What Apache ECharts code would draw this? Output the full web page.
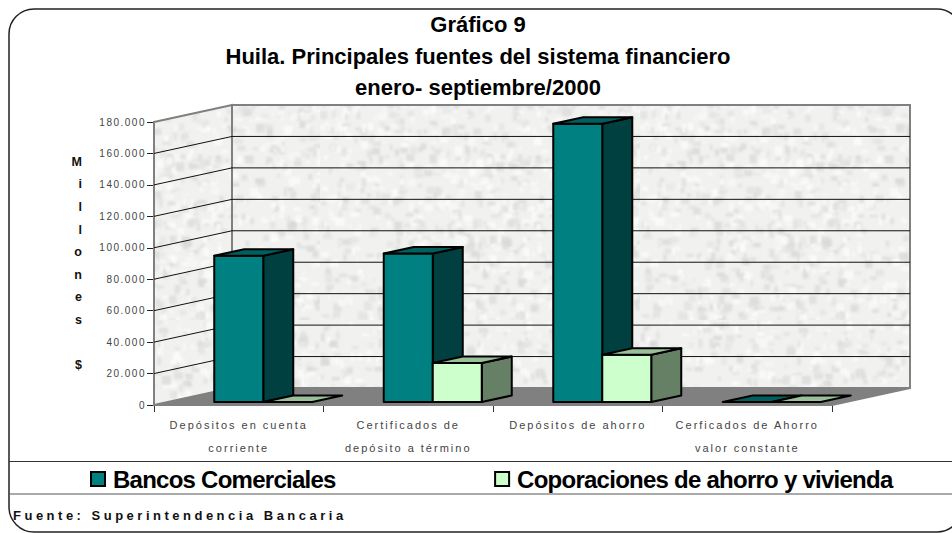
<!DOCTYPE html>
<html>
<head>
<meta charset="utf-8">
<style>
  html, body { margin: 0; padding: 0; background: #fff; }
  #graph { width: 952px; height: 533px; overflow: hidden; }
  /* echarts has no letter spacing option, the svg renderer lets css do it */
  #graph text[style*="10px"] { letter-spacing: 1.5px; }
  #graph text[style*="11px"] { letter-spacing: 2px; }
  #graph text[style*="13px"] { letter-spacing: 3.5px; }
  #graph text[style*="24px"] { letter-spacing: -0.75px; }
</style>
<script src="https://cdn.jsdelivr.net/npm/echarts@6/dist/echarts.min.js"></script>
</head>
<body>
<div id="graph"></div>
<script>
const categories = [
  'Depósitos en cuenta\ncorriente',
  'Certificados de\ndepósito a término',
  'Depósitos de ahorro',
  'Cerficados de Ahorro\nvalor constante'
];
const bancos = [93000, 94500, 177000, 0];
const coporaciones = [0, 24800, 30000, 0];
const yTicks = [20000, 40000, 60000, 80000, 100000, 120000, 140000, 160000];

// 3d look of the old spreadsheet chart
const wallDx = 78, wallDy = -17;
const barDx = 30, barDy = -6.5;
const barWidth = 49, barShiftX = 24.5, barShiftY = -3;

function makeTexture() {
  const c = document.createElement('canvas');
  c.width = c.height = 320;
  const ctx = c.getContext('2d');
  ctx.fillStyle = '#f1f1ef';
  ctx.fillRect(0, 0, 320, 320);
  ctx.filter = 'blur(1.3px)';
  let seed = 12345;
  const next = () => (seed = (seed * 16807) % 2147483647) / 2147483647;
  for (let i = 0; i < 1500; i++) {
    const g = next() < 0.55 ? 214 + Math.floor(next() * 16) : 248 + Math.floor(next() * 7);
    ctx.fillStyle = 'rgba(' + g + ',' + g + ',' + g + ',0.7)';
    ctx.fillRect(next() * 320, next() * 320, 2 + next() * 7, 2 + next() * 7);
  }
  return c;
}
const texture = { image: makeTexture(), repeat: 'repeat' };

function renderWalls(params) {
  const g = params.coordSys;
  const x0 = g.x, x1 = g.x + g.width, y0 = g.y, y1 = g.y + g.height;
  const poly = (points, fill) => ({
    type: 'polygon',
    shape: { points: points },
    style: { fill: fill, stroke: '#808080', lineWidth: 2 }
  });
  return {
    type: 'group',
    children: [
      poly([[x0, y1], [x0 + wallDx, y1 + wallDy], [x1 + wallDx, y1 + wallDy], [x1, y1]], '#808080'),
      poly([[x0, y0], [x0 + wallDx, y0 + wallDy], [x0 + wallDx, y1 + wallDy], [x0, y1]], texture),
      poly([[x0 + wallDx, y0 + wallDy], [x1 + wallDx, y0 + wallDy], [x1 + wallDx, y1 + wallDy], [x0 + wallDx, y1 + wallDy]], texture)
    ]
  };
}

function renderGridLine(params, api) {
  const g = params.coordSys;
  const y = api.coord([0, api.value(0)])[1];
  return {
    type: 'polyline',
    shape: { points: [[g.x, y], [g.x + wallDx, y + wallDy], [g.x + g.width + wallDx, y + wallDy]] },
    style: { fill: 'none', stroke: '#111', lineWidth: 1 }
  };
}

function barRenderer(slot, face, side, top) {
  return function (params, api) {
    const c = api.value(0);
    const tip = api.coord([c, api.value(1)]);
    const base = api.coord([c, 0]);
    const x = tip[0] + barShiftX + slot * barWidth;
    const y = tip[1] + barShiftY;
    const b = base[1] + barShiftY;
    const r = x + barWidth;
    const line = { stroke: '#000', lineWidth: 2, lineJoin: 'round' };
    const children = [];
    if (b - y > 0.5) {
      children.push({
        type: 'polygon',
        shape: { points: [[r, y], [r + barDx, y + barDy], [r + barDx, b + barDy], [r, b]] },
        style: Object.assign({ fill: side }, line)
      });
      children.push({
        type: 'rect',
        shape: { x: x, y: y, width: barWidth, height: b - y },
        style: Object.assign({ fill: face }, line)
      });
    }
    children.push({
      type: 'polygon',
      shape: { points: [[x, y], [x + barDx, y + barDy], [r + barDx, y + barDy], [r, y]] },
      style: Object.assign({ fill: top }, line)
    });
    return { type: 'group', children: children };
  };
}

const myChart = echarts.init(document.getElementById('graph'), null, { renderer: 'svg' });
myChart.setOption({
  animation: false,
  backgroundColor: '#fff',
  title: [
    {
      text: 'Gráfico 9\nHuila. Principales fuentes del sistema financiero\nenero- septiembre/2000',
      left: 473,
      top: 4,
      textAlign: 'center',
      textStyle: { fontFamily: 'Liberation Sans', fontSize: 22, fontWeight: 'bold', color: '#000', lineHeight: 31.5 }
    },
    {
      text: 'Fuente: Superintendencia Bancaria',
      left: 8,
      top: 502,
      textStyle: { fontFamily: 'Liberation Sans', fontSize: 13, fontWeight: 'bold', color: '#111', lineHeight: 16 }
    }
  ],
  legend: {
    data: ['Bancos Comerciales', 'Coporaciones de ahorro y vivienda'],
    icon: 'rect',
    left: 85,
    top: 462,
    itemWidth: 14,
    itemHeight: 14,
    itemGap: 145,
    itemStyle: { borderColor: '#000', borderWidth: 2 },
    textStyle: { fontFamily: 'Liberation Sans', fontSize: 24, fontWeight: 'bold', color: '#000', padding: [0, 0, 0, 3] }
  },
  grid: { left: 154, right: 120, top: 122, bottom: 128 },
  xAxis: {
    type: 'category',
    data: categories,
    axisLine: { lineStyle: { color: '#333', width: 2 } },
    axisTick: { show: true, length: 7, lineStyle: { color: '#333' } },
    axisLabel: {
      margin: 8, interval: 0, fontFamily: 'Liberation Sans', fontSize: 11, color: '#444', lineHeight: 23
    }
  },
  yAxis: {
    type: 'value',
    min: 0,
    max: 180000,
    interval: 20000,
    name: 'M\ni\nl\nl\no\nn\ne\ns\n\n$',
    nameLocation: 'middle',
    nameRotate: 0,
    nameGap: 72,
    nameTextStyle: { fontFamily: 'Liberation Sans', fontSize: 12.5, fontWeight: 'bold', color: '#111', lineHeight: 22.6 },
    splitLine: { show: false },
    axisLine: { show: true, lineStyle: { color: '#808080', width: 2 } },
    axisTick: { show: true, length: 7, lineStyle: { color: '#222' } },
    axisLabel: {
      margin: 8,
      fontFamily: 'Liberation Sans',
      fontSize: 10,
      color: '#444',
      formatter: v => String(v).replace(/\B(?=(\d{3})+$)/g, '.')
    }
  },
  graphic: [
    { type: 'rect', z: 100, shape: { x: 9, y: 9, width: 953, height: 523, r: 25 }, style: { fill: 'none', stroke: '#222', lineWidth: 1.5 } },
    { type: 'line', z: 100, shape: { x1: 9, y1: 461.5, x2: 952, y2: 461.5 }, style: { stroke: '#333', lineWidth: 1 } },
    { type: 'line', z: 100, shape: { x1: 9, y1: 494, x2: 952, y2: 494 }, style: { stroke: '#555', lineWidth: 1 } }
  ],
  series: [
    { type: 'custom', silent: true, z: 1, renderItem: renderWalls, data: [0], clip: false },
    { type: 'custom', silent: true, z: 2, renderItem: renderGridLine, data: yTicks, encode: { y: 0 }, clip: false },
    {
      name: 'Bancos Comerciales',
      type: 'custom',
      z: 3,
      clip: false,
      itemStyle: { color: '#008080' },
      renderItem: barRenderer(-1, '#008080', '#004040', '#006060'),
      data: bancos.map((v, i) => [i, v]),
      encode: { x: 0, y: 1 }
    },
    {
      name: 'Coporaciones de ahorro y vivienda',
      type: 'custom',
      z: 4,
      clip: false,
      itemStyle: { color: '#ccffcc' },
      renderItem: barRenderer(0, '#ccffcc', '#668066', '#99c099'),
      data: coporaciones.map((v, i) => [i, v]),
      encode: { x: 0, y: 1 }
    }
  ]
});
</script>
</body>
</html>
